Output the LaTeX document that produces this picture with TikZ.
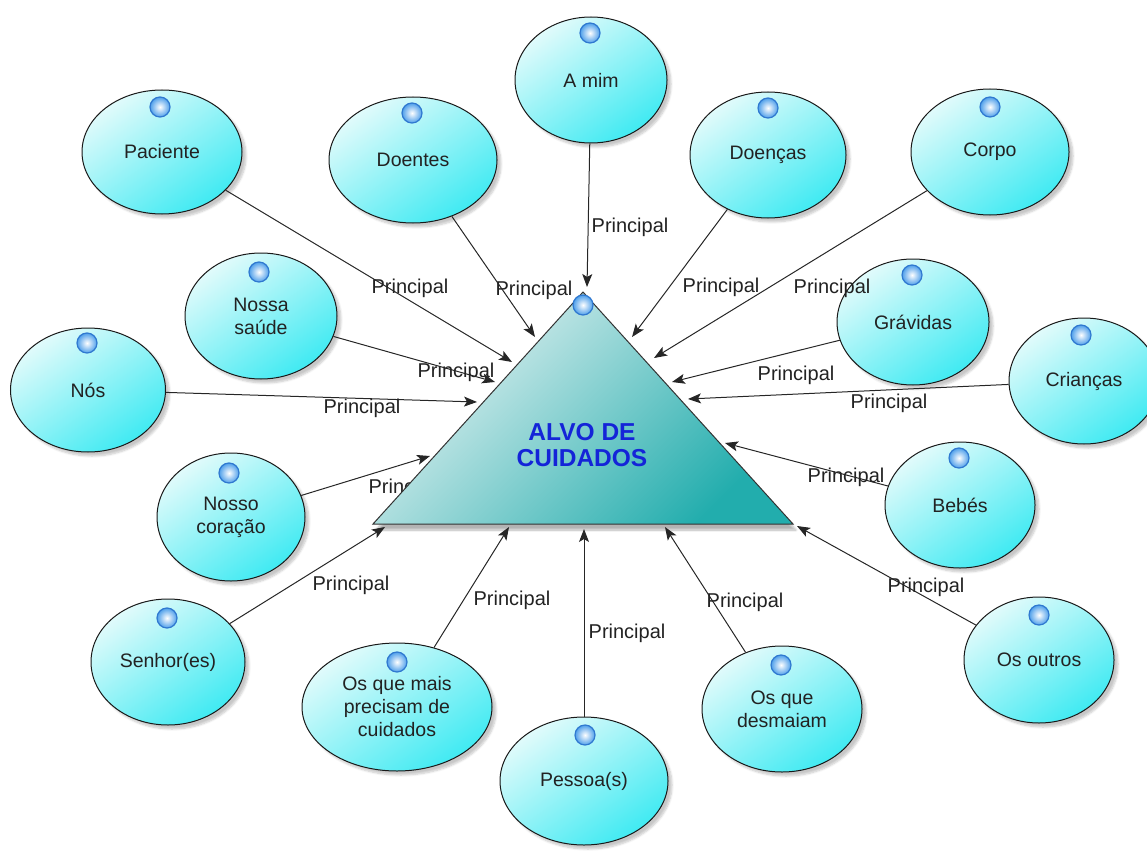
\documentclass[tikz,border=0pt]{standalone}
\usepackage{fontspec}
\setmainfont{Liberation Sans}
\usetikzlibrary{arrows.meta,shapes.geometric,shadows.blur}

\definecolor{bubtop}{HTML}{E2FBFB}
\definecolor{bubbot}{HTML}{3FEAF2}
\definecolor{tritop}{HTML}{E8F3F3}
\definecolor{tribot}{HTML}{22ADAD}
\definecolor{titleblue}{HTML}{1424D8}
\definecolor{inkgray}{HTML}{222222}
\definecolor{balledge}{HTML}{2F78D0}
\definecolor{ballrim}{HTML}{4E9FEA}

\begin{document}
\begin{tikzpicture}[x=1pt,y=-1pt,
  txt/.style={font=\fontsize{19.5}{23}\selectfont, text=inkgray, align=center},
  bubble/.style={ellipse, draw=black!90, line width=1pt,
    top color=bubtop, bottom color=bubbot, shading angle=35,
    inner sep=0pt, txt,
    blur shadow={shadow xshift=4pt, shadow yshift=-4pt, shadow opacity=22, shadow blur steps=6}},
  sz/.style 2 args={minimum width=#1pt, minimum height=#2pt},
  ballicon/.style={circle, draw=balledge, line width=1.2pt,
    inner color=white, outer color=ballrim, minimum size=20pt, inner sep=0pt},
  rel/.style={font=\fontsize{20}{23}\selectfont, text=inkgray, inner sep=0pt},
  conn/.style={draw=black!85, line width=1pt,
    -{Stealth[length=13pt, width=10pt, inset=3pt]}},
  tri/.style={draw=black!80, line width=1pt,
    top color=tritop, bottom color=tribot, shading angle=45,
    blur shadow={shadow xshift=3pt, shadow yshift=-6pt, shadow opacity=30, shadow blur steps=8}},
  title/.style={font=\bfseries\fontsize{24.5}{26}\selectfont, text=titleblue, align=center}
]
\useasboundingbox (0,0) rectangle (1147,853);

% ---- concept bubbles ----
\node[bubble, sz={152}{126}] (amim)    at (591,80)  {A mim};
\node[bubble, sz={160}{124}] (pac)     at (162,152) {Paciente};
\node[bubble, sz={168}{126}] (doentes) at (413,160) {Doentes};
\node[bubble, sz={156}{126}] (doencas) at (768,155) {Doenças};
\node[bubble, sz={158}{126}] (corpo)   at (990,152) {Corpo};
\node[bubble, sz={152}{126}] (saude)   at (261,316) {Nossa\\saúde};
\node[bubble, sz={155}{124}] (nos)     at (88,390)  {Nós};
\node[bubble, sz={152}{126}] (gravidas) at (913,322) {Grávidas};
\node[bubble, sz={150}{126}] (criancas) at (1084,381) {Crianças};
\node[bubble, sz={148}{128}] (coracao) at (231,517) {Nosso\\coração};
\node[bubble, sz={150}{126}] (bebes)   at (960,505) {Bebés};
\node[bubble, sz={154}{126}] (senhor)  at (168,662) {Senhor(es)};
\node[bubble, sz={190}{128}] (maisprec) at (397,707) {Os que mais\\precisam de\\cuidados};
\node[bubble, sz={168}{128}] (pessoa)  at (584,781) {Pessoa(s)};
\node[bubble, sz={160}{126}] (desmaiam) at (782,709) {Os que\\desmaiam};
\node[bubble, sz={150}{126}] (outros)  at (1039,660) {Os outros};

% ---- relation labels ----
\node[rel] (lamim)    at (630,227) {Principal};
\node[rel] (lpac)     at (410,288) {Principal};
\node[rel] (ldoentes) at (534,290) {Principal};
\node[rel] (ldoencas) at (721,287) {Principal};
\node[rel] (lcorpo)   at (832,288) {Principal};
\node[rel] (lsaude)   at (456,372) {Principal};
\node[rel] (lnos)     at (362,408) {Principal};
\node[rel] (lgravidas) at (796,375) {Principal};
\node[rel] (lcriancas) at (889,403) {Principal};
\node[rel] (lcoracao) at (407,488) {Principal};
\node[rel] (lbebes)   at (846,477) {Principal};
\node[rel] (lsenhor)  at (351,585) {Principal};
\node[rel] (lmais)    at (512,600) {Principal};
\node[rel] (lpessoa)  at (627,633) {Principal};
\node[rel] (ldesm)    at (745,602) {Principal};
\node[rel] (loutros)  at (926,587) {Principal};

% ---- central triangle ----
\coordinate (apex) at (583,292);
\coordinate (bl) at (373,524);
\coordinate (br) at (793,524);
\path[tri] (apex) -- (bl) -- (br) -- cycle;
\node[title] (alvo) at (582,445) {ALVO DE\\CUIDADOS};

% ---- arrow ends on the triangle ----
\coordinate (tamim)    at (587,287);
\coordinate (tpac)     at (512,362);
\coordinate (tdoentes) at (535,337);
\coordinate (tdoencas) at (632,337);
\coordinate (tcorpo)   at (654,358);
\coordinate (tsaude)   at (495,382);
\coordinate (tnos)     at (477,402);
\coordinate (tgravidas) at (672,382);
\coordinate (tcriancas) at (688,399);
\coordinate (tcoracao) at (430,456);
\coordinate (tbebes)   at (725,443);
\coordinate (tsenhor)  at (385,527);
\coordinate (tmais)    at (509,527);
\coordinate (tpessoa)  at (584,529);
\coordinate (tdesm)    at (665,527);
\coordinate (toutros)  at (797,526);

% ---- connectors ----
\draw[conn] (amim) -- (tamim);
\draw[conn] (pac) -- (tpac);
\draw[conn] (doentes) -- (tdoentes);
\draw[conn] (doencas) -- (tdoencas);
\draw[conn] (corpo) -- (tcorpo);
\draw[conn] (saude) -- (tsaude);
\draw[conn] (nos) -- (tnos);
\draw[conn] (gravidas) -- (tgravidas);
\draw[conn] (criancas) -- (tcriancas);
\draw[conn] (coracao) -- (tcoracao);
\draw[conn] (bebes) -- (tbebes);
\draw[conn] (senhor) -- (tsenhor);
\draw[conn] (maisprec) -- (tmais);
\draw[conn] (pessoa) -- (tpessoa);
\draw[conn] (desmaiam) -- (tdesm);
\draw[conn] (outros) -- (toutros);

% ---- status markers ----
\node[ballicon] (bapex)    at (583,305) {};
\node[ballicon] (bamim)    at (590,33)  {};
\node[ballicon] (bpac)     at (160,107) {};
\node[ballicon] (bdoentes) at (412,113) {};
\node[ballicon] (bdoencas) at (768,108) {};
\node[ballicon] (bcorpo)   at (990,107) {};
\node[ballicon] (bsaude)   at (259,272) {};
\node[ballicon] (bnos)     at (87,343)  {};
\node[ballicon] (bgravidas) at (912,275) {};
\node[ballicon] (bcriancas) at (1081,335) {};
\node[ballicon] (bcoracao) at (229,473) {};
\node[ballicon] (bbebes)   at (959,458) {};
\node[ballicon] (bsenhor)  at (167,618) {};
\node[ballicon] (bmais)    at (397,662) {};
\node[ballicon] (bpessoa)  at (585,735) {};
\node[ballicon] (bdesm)    at (781,665) {};
\node[ballicon] (boutros)  at (1039,615) {};
\end{tikzpicture}
\end{document}
